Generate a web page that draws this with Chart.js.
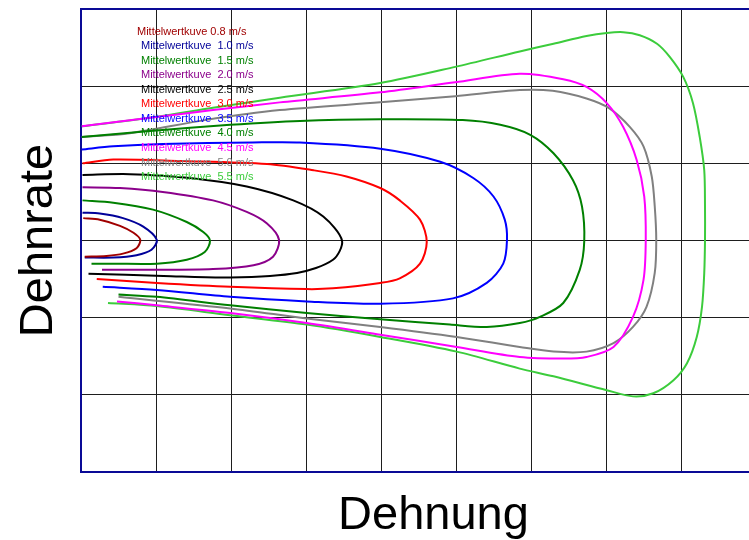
<!DOCTYPE html>
<html>
<head>
<meta charset="utf-8">
<script src="https://cdn.jsdelivr.net/npm/chart.js@4.4.1/dist/chart.umd.min.js"></script>
<style>
  html, body { margin: 0; padding: 0; overflow: hidden; background: #fff; }
</style>
</head>
<body>
<canvas id="kurven" width="790" height="540"></canvas>
<script>
// Mittelwertkurven, Punkte als [Dehnung, Dehnrate]
var kurve08 = [[0.03,0.29],[0.25,0.27],[0.52,0.19],[0.70,0.10],[0.79,0.01],[0.74,-0.10],[0.56,-0.17],[0.34,-0.20],[0.05,-0.21]];
var kurve10 = [[0.02,0.36],[0.25,0.35],[0.56,0.29],[0.83,0.18],[1.01,0.01],[0.94,-0.12],[0.74,-0.19],[0.43,-0.22],[0.05,-0.22]];
var kurve15 = [[0.02,0.52],[0.43,0.49],[0.96,0.40],[1.41,0.24],[1.63,0.11],[1.72,0.00],[1.65,-0.15],[1.41,-0.25],[1.01,-0.30],[0.43,-0.30],[0.14,-0.30]];
var kurve20 = [[0.02,0.69],[0.52,0.68],[1.09,0.63],[1.76,0.52],[2.21,0.37],[2.48,0.22],[2.64,0.01],[2.56,-0.21],[2.30,-0.32],[1.76,-0.37],[0.88,-0.38],[0.28,-0.38]];
var kurve25 = [[0.02,0.85],[0.65,0.86],[1.45,0.81],[2.21,0.70],[2.83,0.52],[3.23,0.31],[3.48,0.00],[3.36,-0.25],[2.88,-0.42],[1.99,-0.48],[1.10,-0.46],[0.10,-0.43]];
var kurve30 = [[0.02,1.00],[0.43,1.05],[1.32,1.03],[2.48,0.99],[3.10,0.91],[3.54,0.83],[3.99,0.68],[4.25,0.52],[4.52,0.27],[4.61,-0.02],[4.52,-0.30],[4.25,-0.49],[3.99,-0.55],[3.36,-0.62],[3.01,-0.63],[1.99,-0.60],[1.01,-0.55],[0.21,-0.50]];
var kurve35 = [[0.01,1.18],[0.43,1.22],[1.09,1.25],[2.29,1.27],[2.92,1.27],[3.99,1.19],[4.79,1.02],[5.23,0.81],[5.50,0.57],[5.65,0.27],[5.68,0.01],[5.63,-0.30],[5.41,-0.55],[4.96,-0.75],[3.99,-0.82],[3.01,-0.79],[1.99,-0.73],[1.01,-0.64],[0.29,-0.60]];
var kurve40 = [[0.01,1.34],[0.92,1.42],[1.99,1.50],[2.92,1.55],[3.99,1.57],[5.09,1.56],[5.59,1.50],[5.99,1.37],[6.30,1.13],[6.56,0.78],[6.68,0.44],[6.71,-0.01],[6.65,-0.38],[6.43,-0.81],[6.12,-0.99],[5.85,-1.07],[5.41,-1.12],[4.92,-1.09],[3.99,-1.02],[3.01,-0.94],[1.99,-0.84],[1.01,-0.73],[0.50,-0.70]];
var kurve45 = [[0.01,1.48],[0.92,1.59],[1.76,1.69],[2.65,1.79],[3.99,1.92],[4.99,2.05],[5.85,2.16],[6.43,2.09],[6.74,1.99],[7.01,1.78],[7.23,1.47],[7.41,1.04],[7.51,0.57],[7.53,0.01],[7.50,-0.51],[7.36,-0.99],[7.10,-1.38],[6.74,-1.51],[6.43,-1.53],[5.85,-1.51],[5.01,-1.38],[3.99,-1.22],[3.01,-1.07],[1.99,-0.94],[1.01,-0.84],[0.48,-0.79]];
var kurve50 = [[0.01,1.34],[0.65,1.39],[1.65,1.56],[2.65,1.69],[3.99,1.79],[4.99,1.87],[5.85,1.95],[6.29,1.94],[6.74,1.84],[7.05,1.71],[7.32,1.47],[7.50,1.22],[7.61,0.83],[7.65,0.44],[7.67,0.01],[7.65,-0.42],[7.54,-0.86],[7.36,-1.12],[7.10,-1.33],[6.74,-1.44],[6.30,-1.44],[5.85,-1.38],[5.01,-1.25],[3.99,-1.12],[3.01,-1.01],[1.99,-0.88],[0.50,-0.73]];
var kurve55 = [[0.01,1.48],[0.92,1.59],[1.76,1.72],[2.65,1.85],[3.99,2.04],[4.99,2.25],[5.85,2.45],[6.30,2.55],[6.74,2.65],[7.01,2.69],[7.23,2.70],[7.45,2.66],[7.68,2.55],[7.85,2.38],[8.03,2.12],[8.16,1.78],[8.25,1.34],[8.31,0.91],[8.32,0.44],[8.32,0.01],[8.31,-0.42],[8.28,-0.86],[8.21,-1.25],[8.08,-1.59],[7.90,-1.81],[7.63,-1.98],[7.36,-2.02],[7.01,-1.94],[6.30,-1.76],[5.85,-1.66],[5.01,-1.44],[3.99,-1.25],[3.01,-1.09],[1.99,-0.97],[1.01,-0.85],[0.36,-0.81]];

var kurven = [kurve08, kurve10, kurve15, kurve20, kurve25, kurve30, kurve35, kurve40, kurve45, kurve50, kurve55];
var namen = ['Mittelwertkuve 0.8 m/s', 'Mittelwertkuve  1.0 m/s', 'Mittelwertkuve  1.5 m/s', 'Mittelwertkuve  2.0 m/s',
             'Mittelwertkuve  2.5 m/s', 'Mittelwertkuve  3.0 m/s', 'Mittelwertkuve  3.5 m/s', 'Mittelwertkuve  4.0 m/s',
             'Mittelwertkuve  4.5 m/s', 'Mittelwertkuve  5.0 m/s', 'Mittelwertkuve  5.5 m/s'];
var farben = ['#a00000', '#000099', '#008000', '#8b008b', '#000000', '#ff0000', '#0000ff', '#008000', '#ff00ff', '#808080', '#3ccc3c'];

var rahmenFarbe = '#0a0a96';

var datensaetze = kurven.map(function (k, i) {
  return {
    label: namen[i],
    data: k.map(function (p) { return { x: p[0], y: p[1] }; }),
    borderColor: farben[i],
    borderWidth: 2,
    showLine: true,
    pointRadius: 0,
    tension: 0.3,
    fill: false
  };
});

// Legende oben links im Diagramm, Text in Kurvenfarbe
var legende = {
  id: 'legende',
  afterDatasetsDraw: function (chart) {
    var ctx = chart.ctx, a = chart.chartArea;
    ctx.save();
    ctx.font = '11px "Liberation Sans", Arial, sans-serif';
    ctx.textBaseline = 'middle';
    chart.data.datasets.forEach(function (ds, i) {
      ctx.fillStyle = ds.borderColor;
      ctx.fillText(ds.label, a.left + (i === 0 ? 56 : 60), a.top + 22.5 + i * 14.56);
    });
    ctx.restore();
  }
};

// obere Rahmenlinie
var rahmen = {
  id: 'rahmen',
  afterDraw: function (chart) {
    var ctx = chart.ctx, a = chart.chartArea;
    ctx.save();
    ctx.strokeStyle = rahmenFarbe;
    ctx.lineWidth = 2;
    ctx.beginPath();
    ctx.moveTo(a.left - 1, a.top);
    ctx.lineTo(a.right, a.top);
    ctx.stroke();
    ctx.restore();
  }
};

var ctx = document.getElementById('kurven').getContext('2d');
var chart = new Chart(ctx, {
  type: 'scatter',
  data: { datasets: datensaetze },
  plugins: [legende, rahmen],
  options: {
    responsive: false,
    animation: false,
    devicePixelRatio: 1,
    layout: { padding: { top: 9, right: 4, bottom: 0, left: 0 } },
    plugins: { legend: { display: false }, tooltip: { enabled: false } },
    scales: {
      x: {
        type: 'linear',
        min: 0,
        max: 9.4,
        afterFit: function (s) { s.height = 68; },
        ticks: { display: false, stepSize: 1 },
        grid: { color: '#1e1e1e', lineWidth: 1, drawTicks: false },
        border: { display: true, color: rahmenFarbe, width: 2 },
        title: {
          display: true,
          text: 'Dehnung',
          color: '#000',
          font: { family: '"Liberation Sans", Arial, sans-serif', size: 47, lineHeight: 1 },
          padding: { top: 0, bottom: 0 }
        }
      },
      y: {
        type: 'linear',
        min: -3,
        max: 3,
        afterFit: function (s) { s.width = 81; },
        ticks: { display: false, stepSize: 1 },
        grid: { color: '#1e1e1e', lineWidth: 1, drawTicks: false },
        border: { display: true, color: rahmenFarbe, width: 2 },
        title: {
          display: true,
          text: 'Dehnrate',
          color: '#000',
          font: { family: '"Liberation Sans", Arial, sans-serif', size: 47, lineHeight: 1 },
          padding: { top: 16, bottom: 0 }
        }
      }
    }
  }
});
</script>
</body>
</html>
